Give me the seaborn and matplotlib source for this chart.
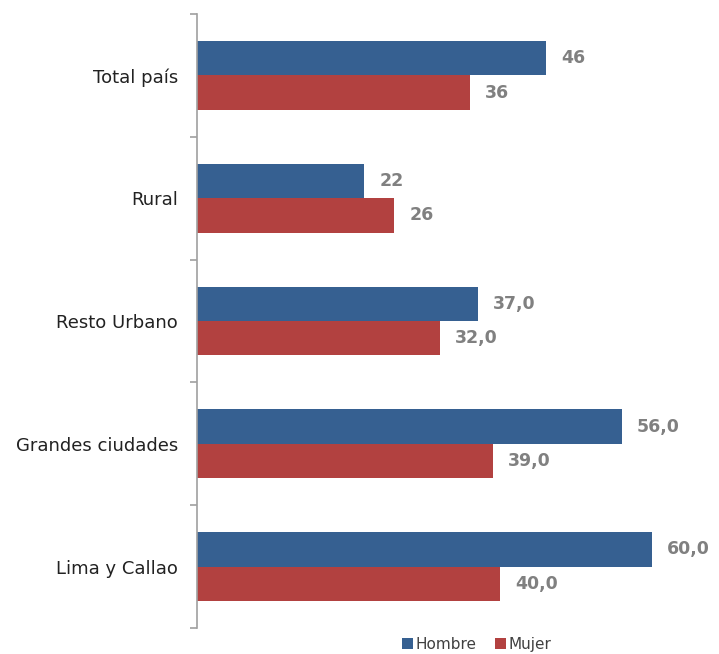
import pandas as pd
import matplotlib.pyplot as plt
import seaborn as sns

# data
zonas = ['Total país', 'Rural', 'Resto Urbano', 'Grandes ciudades', 'Lima y Callao']
hombre = [46, 22, 37.0, 56.0, 60.0]
mujer = [36, 26, 32.0, 39.0, 40.0]
hombre_txt = ['46', '22', '37,0', '56,0', '60,0']
mujer_txt = ['36', '26', '32,0', '39,0', '40,0']

df = pd.DataFrame({
    'Zona': zonas * 2,
    'Valor': hombre + mujer,
    'Sexo': ['Hombre'] * len(zonas) + ['Mujer'] * len(zonas),
})

sns.set_style('white')
plt.rcParams['font.family'] = ['DejaVu Sans']

fig = plt.figure(figsize=(7.19, 6.54), dpi=100)
ax = fig.add_axes([197 / 719, 1 - 628 / 654, (690 - 197) / 719, (628 - 14) / 654])

sns.barplot(data=df, y='Zona', x='Valor', hue='Sexo', orient='h',
            palette={'Hombre': '#366091', 'Mujer': '#B24140'}, saturation=1,
            width=0.56, order=zonas, hue_order=['Hombre', 'Mujer'],
            legend=True, ax=ax, linewidth=0)

# value labels
for cont, txts in zip(ax.containers, [hombre_txt, mujer_txt]):
    ax.bar_label(cont, labels=txts, padding=11, color='#808080',
                 fontsize=12.5, fontweight='bold')

ax.set_xlim(0, 65)
ax.set_ylim(len(zonas) - 0.5, -0.5)
ax.set_xlabel('')
ax.set_ylabel('')
ax.set_xticks([])

# category labels at centers, tick marks at boundaries
ax.set_yticks(range(len(zonas)))
ax.set_yticklabels(zonas, fontsize=13, color='#222222')
ax.tick_params(axis='y', which='major', length=0, pad=13.5)
ax.set_yticks([i - 0.5 for i in range(len(zonas) + 1)], minor=True)
ax.tick_params(axis='y', which='minor', length=5, width=1.2, color='#A0A0A0', direction='out', left=True)

for s in ['top', 'right', 'bottom']:
    ax.spines[s].set_visible(False)
ax.spines['left'].set_color('#A0A0A0')
ax.spines['left'].set_linewidth(1.2)

handles, labels = ax.get_legend_handles_labels()
ax.get_legend().remove()
fig.legend(handles, labels, loc='lower center', bbox_to_anchor=(0.663, -0.018),
           ncol=2, frameon=False, fontsize=11, handlelength=0.7,
           handleheight=0.7, handletextpad=0.2, columnspacing=1.2,
           labelcolor='#404040')

plt.savefig('out.png', dpi=100)
